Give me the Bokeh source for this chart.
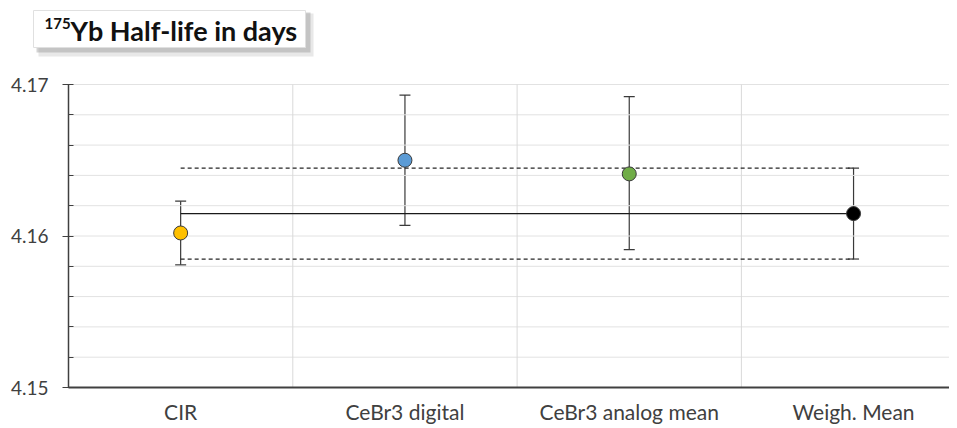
from bokeh.plotting import figure
from bokeh.models import (Range1d, FixedTicker, ColumnDataSource, Whisker, TeeHead, Label)
from bokeh.embed import file_html
from bokeh.resources import INLINE

# ---------------- data ----------------
categories = ["CIR", "CeBr3 digital", "CeBr3 analog mean", "Weigh. Mean"]
values = [4.1602, 4.1650, 4.1641, 4.16148]
err_upper = [4.1623, 4.1693, 4.1692, 4.16448]
err_lower = [4.1581, 4.1607, 4.1591, 4.15848]
colors = ["#FFC000", "#5B9BD5", "#70AD47", "#000000"]
y_min, y_max = 4.15, 4.17
y_major_ticks = [4.15, 4.16, 4.17]
y_minor_ticks = [4.152, 4.154, 4.156, 4.158, 4.162, 4.164, 4.166, 4.168]
y_tick_labels = {4.15: "4.15", 4.16: "4.16", 4.17: "4.17"}
title_sup = "175"
title_main = "Yb Half-life in days"

# ---------------- layout (page pixels) ----------------
FONT = "Lato"
TXT = "#404040"
W, H = 949, 424
AX_L, AX_T, AX_B = 68, 84, 387     # axis box: left, top (y_max), bottom (y_min)
CAT_PX = 224.3                      # pixels per category
x_lo = -0.5                         # category axis starts half a slot left of CIR
y_per_px = (y_max - y_min) / (AX_B - AX_T)

def px2x(px):
    return x_lo + (px - AX_L) / CAT_PX

def px2y(py):
    return y_max + (AX_T - py) * y_per_px

x_hi = px2x(W)

# the frame fills the whole canvas; axes are pinned at fixed locations
p = figure(width=W, height=H, output_backend="svg", toolbar_location=None,
           x_range=Range1d(px2x(0), px2x(W)), y_range=Range1d(px2y(H), px2y(0)),
           min_border_left=0, min_border_top=0, min_border_bottom=0, min_border_right=0)
p.outline_line_color = None
p.background_fill_color = "white"
p.border_fill_color = "white"
p.grid.visible = False

xs = list(range(len(categories)))

# grid lines (drawn only inside the axis box)
hy = y_major_ticks + y_minor_ticks
p.segment(x0=[x_lo] * len(hy), x1=[x_hi] * len(hy), y0=hy, y1=hy,
          line_color="#e2e2e2", line_width=1)
vx = [i + 0.5 for i in xs[:-1]]
p.segment(x0=vx, x1=vx, y0=[y_min] * len(vx), y1=[y_max] * len(vx),
          line_color="#d9d9d9", line_width=1)

# y axis
ya = p.yaxis[0]
ya.fixed_location = x_lo
ya.bounds = (y_min, y_max)
ya.ticker = FixedTicker(ticks=y_major_ticks, minor_ticks=y_minor_ticks)
ya.major_label_overrides = y_tick_labels
ya.axis_line_color = "#404040"
ya.axis_line_width = 1.5
ya.major_tick_line_color = "#404040"
ya.minor_tick_line_color = "#404040"
ya.major_tick_out = 6
ya.major_tick_in = 5
ya.minor_tick_out = 0
ya.minor_tick_in = 5
ya.major_label_standoff = 14
ya.major_label_text_font = FONT
ya.major_label_text_font_size = "19px"
ya.major_label_text_color = TXT

# x axis
xa = p.xaxis[0]
xa.fixed_location = y_min
xa.bounds = (x_lo, x_hi)
xa.ticker = FixedTicker(ticks=xs)
xa.major_label_overrides = {i: c for i, c in zip(xs, categories)}
xa.axis_line_color = "#404040"
xa.axis_line_width = 2
xa.major_tick_line_color = None
xa.minor_tick_line_color = None
xa.major_tick_out = 0
xa.major_tick_in = 0
xa.major_label_standoff = 11
xa.major_label_text_font = FONT
xa.major_label_text_font_size = "21px"
xa.major_label_text_color = TXT

# weighted mean band lines
p.line([xs[0], xs[-1]], [values[-1], values[-1]], line_color="#1a1a1a", line_width=1.3)
p.line([xs[0], xs[-1]], [err_upper[-1], err_upper[-1]], line_color="#262626",
       line_width=1.3, line_dash="4 3")
p.line([xs[0], xs[-1]], [err_lower[-1], err_lower[-1]], line_color="#262626",
       line_width=1.3, line_dash="4 3")

src = ColumnDataSource(dict(x=xs, y=values, up=err_upper, lo=err_lower, c=colors))
wh = Whisker(source=src, base="x", upper="up", lower="lo",
             line_color="#3a3a3a", line_width=1.2,
             upper_head=TeeHead(size=11, line_color="#3a3a3a", line_width=1.2),
             lower_head=TeeHead(size=11, line_color="#3a3a3a", line_width=1.2))
p.add_layout(wh)
p.scatter("x", "y", source=src, size=14, fill_color="c", line_color="#3a3a3a",
          line_width=1)

# ---- title box with shadow ----
for (l, r, tp, bt, a) in [(38, 313, 13, 56, 0.18), (36, 310, 12, 52, 0.35)]:
    p.quad(left=[px2x(l)], right=[px2x(r)], top=[px2y(tp)], bottom=[px2y(bt)],
           fill_color="#808080", fill_alpha=a, line_color=None)
p.quad(left=[px2x(33)], right=[px2x(305)], top=[px2y(10)], bottom=[px2y(47)],
       fill_color="white", line_color="#e0e0e0", line_width=1)
p.add_layout(Label(x=px2x(44), y=px2y(23), text=title_sup, text_font=FONT,
                   text_font_style="bold", text_font_size="15px", text_color="#111111",
                   text_baseline="middle"))
p.add_layout(Label(x=px2x(70), y=px2y(30), text=title_main, text_font=FONT,
                   text_font_style="bold", text_font_size="27px", text_color="#111111",
                   text_baseline="middle"))

open("out.html", "w").write(file_html(p, INLINE))
